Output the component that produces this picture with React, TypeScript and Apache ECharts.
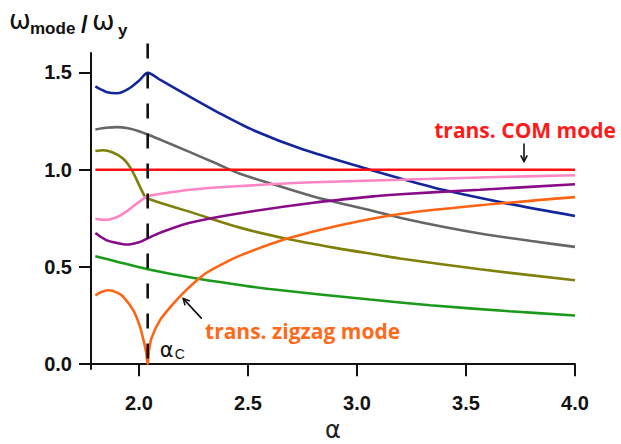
import React, { useEffect, useRef } from "react";
import * as echarts from "echarts";

// Critical anisotropy where the linear chain turns into a zigzag
const ALPHA_C = 2.04;

const X_TICKS = [2.0, 2.5, 3.0, 3.5, 4.0];
const Y_TICKS = [0.0, 0.5, 1.0, 1.5];

// Normal-mode frequencies ω_mode/ω_y versus trap anisotropy α
const blueMode: [number, number][] = [
  [1.8, 1.428], [1.85, 1.4], [1.9, 1.393], [1.95, 1.414], [2.0, 1.457], [2.04, 1.498],
  [2.1, 1.46], [2.2, 1.396], [2.37, 1.29], [2.53, 1.2], [2.75, 1.105], [3.06, 1.0],
  [3.2, 0.955], [3.4, 0.895], [3.68, 0.828], [4.0, 0.762],
];
const greyMode: [number, number][] = [
  [1.8, 1.207], [1.85, 1.216], [1.9, 1.219], [1.95, 1.213], [2.0, 1.198], [2.04, 1.181],
  [2.1, 1.153], [2.234, 1.09], [2.35, 1.034], [2.463, 0.979], [2.615, 0.925], [2.8, 0.862],
  [3.106, 0.779], [3.197, 0.753], [3.4, 0.705], [3.564, 0.672], [3.8, 0.633], [4.0, 0.603],
];
const comMode: [number, number][] = [
  [1.8, 1.0], [4.0, 1.0],
];
const pinkMode: [number, number][] = [
  [1.8, 0.748], [1.844, 0.742], [1.9, 0.757], [1.95, 0.791], [2.0, 0.834], [2.04, 0.863],
  [2.1, 0.876], [2.234, 0.897], [2.463, 0.916], [2.8, 0.935], [3.197, 0.948], [3.6, 0.961],
  [4.0, 0.971],
];
const oliveMode: [number, number][] = [
  [1.8, 1.096], [1.836, 1.1], [1.88, 1.088], [1.928, 1.056], [1.966, 1.0], [2.005, 0.911],
  [2.028, 0.86], [2.04, 0.852], [2.1, 0.829], [2.234, 0.783], [2.463, 0.702], [2.677, 0.645],
  [2.9, 0.598], [3.106, 0.56], [3.197, 0.543], [3.564, 0.488], [4.0, 0.431],
];
const purpleMode: [number, number][] = [
  [1.8, 0.674], [1.85, 0.638], [1.9, 0.623], [1.944, 0.615], [2.0, 0.627], [2.04, 0.647],
  [2.1, 0.677], [2.234, 0.727], [2.463, 0.776], [2.8, 0.83], [3.106, 0.866], [3.2, 0.874],
  [3.564, 0.897], [4.0, 0.925],
];
const greenMode: [number, number][] = [
  [1.8, 0.555], [1.9, 0.527], [2.04, 0.488], [2.265, 0.44], [2.463, 0.407], [2.6, 0.386],
  [3.06, 0.332], [3.335, 0.303], [3.7, 0.272], [4.0, 0.25],
];
const zigzagMode: [number, number][] = [
  [1.8, 0.354], [1.83, 0.372], [1.859, 0.38], [1.9, 0.368], [1.928, 0.346], [1.974, 0.277],
  [2.005, 0.192], [2.028, 0.089], [2.034, 0.055], [2.04, 0.0], [2.046, 0.07], [2.058, 0.135],
  [2.096, 0.225], [2.157, 0.31], [2.219, 0.383], [2.265, 0.43], [2.31, 0.47], [2.4, 0.525],
  [2.463, 0.558], [2.555, 0.598], [2.677, 0.645], [2.922, 0.714], [3.197, 0.772], [3.564, 0.817],
  [4.0, 0.859],
];

const MODES = [
  { name: "blue", color: "#13259a", data: blueMode },
  { name: "grey", color: "#666666", data: greyMode },
  { name: "olive", color: "#7f7f0a", data: oliveMode },
  { name: "pink", color: "#ff85c4", data: pinkMode },
  { name: "purple", color: "#880c88", data: purpleMode },
  { name: "green", color: "#1a9a1a", data: greenMode },
  { name: "zigzag", color: "#ff6414", data: zigzagMode },
  { name: "com", color: "#ff1010", data: comMode },
];

const LABEL_FONT = "'Liberation Sans', Arial, sans-serif";
const GREEK_FONT = "'DejaVu Sans', sans-serif";
const NOTE_FONT = "'Open Sans', Lato, sans-serif";

function arrow(tail: number[], tip: number[], color: string) {
  const dx = tip[0] - tail[0];
  const dy = tip[1] - tail[1];
  const len = Math.hypot(dx, dy) || 1;
  const ux = dx / len;
  const uy = dy / len;
  const h = 7;
  const a = (28 * Math.PI) / 180;
  const rot = (s: number) => [
    tip[0] - h * (ux * Math.cos(s * a) - uy * Math.sin(s * a)),
    tip[1] - h * (ux * Math.sin(s * a) + uy * Math.cos(s * a)),
  ];
  return [
    {
      type: "line",
      shape: { x1: tail[0], y1: tail[1], x2: tip[0], y2: tip[1] },
      style: { stroke: color, lineWidth: 1.6 },
      z: 20,
    },
    {
      type: "polyline",
      shape: { points: [rot(1), tip, rot(-1)] },
      style: { stroke: color, fill: "none", lineWidth: 1.6 },
      z: 20,
    },
  ];
}

export default function App() {
  const ref = useRef<HTMLDivElement>(null);

  useEffect(() => {
    const chart = echarts.init(ref.current!, null, { renderer: "svg" });

    const series: any[] = MODES.map((m) => ({
      name: m.name,
      type: "line",
      data: m.data,
      smooth: 0.3,
      showSymbol: false,
      symbol: "none",
      lineStyle: { color: m.color, width: 2.6 },
      z: 3,
    }));
    series.push({
      name: "alphaC",
      type: "line",
      data: [
        [ALPHA_C, 1.649],
        [ALPHA_C, -0.01],
      ],
      clip: false,
      symbol: "none",
      lineStyle: { color: "#111", width: 2.6, type: [15, 15] },
      z: 5,
    });

    chart.setOption({
      animation: false,
      backgroundColor: "#ffffff",
      grid: { left: 91, right: 46, top: 53, bottom: 75, outerBoundsMode: "none", containLabel: false },
      xAxis: {
        type: "value",
        min: 1.78,
        max: 4.0,
        name: "α",
        nameLocation: "middle",
        nameGap: 45,
        nameTextStyle: { fontSize: 24, color: "#222", fontFamily: GREEK_FONT },
        splitLine: { show: false },
        axisLine: { lineStyle: { color: "#111", width: 2 } },
        axisTick: {
          customValues: X_TICKS,
          length: 12,
          lineStyle: { color: "#111", width: 2 },
        },
        axisLabel: {
          customValues: X_TICKS,
          margin: 24,
          fontSize: 20,
          fontWeight: "bold",
          color: "#111",
          fontFamily: LABEL_FONT,
          formatter: (v: number) => v.toFixed(1),
        },
      },
      yAxis: {
        type: "value",
        min: -0.025,
        max: 1.6,
        splitLine: { show: false },
        axisLine: { show: true, lineStyle: { color: "#111", width: 2 } },
        axisTick: {
          show: true,
          customValues: Y_TICKS,
          length: 12,
          lineStyle: { color: "#111", width: 2 },
        },
        axisLabel: {
          customValues: Y_TICKS,
          margin: 19,
          fontSize: 20,
          fontWeight: "bold",
          color: "#111",
          fontFamily: LABEL_FONT,
          formatter: (v: number) => v.toFixed(1),
        },
      },
      series,
    });

    const px = (a: number, v: number) =>
      chart.convertToPixel({ gridIndex: 0 }, [a, v]) as number[];

    const comText = px(3.771, 1.205);
    const zigText = px(2.303, 0.172);
    const acPos = px(ALPHA_C, 0.072);

    const graphic: any[] = [
      // axis title ω_mode / ω_y
      {
        type: "text",
        x: 9,
        y: 20,
        style: { text: "ω", fontSize: 26, fill: "#111", fontFamily: GREEK_FONT, verticalAlign: "middle" },
      },
      {
        type: "text",
        x: 30,
        y: 28,
        style: { text: "mode", fontSize: 17, fontWeight: "bold", fill: "#111", fontFamily: LABEL_FONT, verticalAlign: "middle" },
      },
      {
        type: "text",
        x: 81,
        y: 24,
        style: { text: "/", fontSize: 24, fontWeight: "bold", fill: "#111", fontFamily: LABEL_FONT, verticalAlign: "middle" },
      },
      {
        type: "text",
        x: 92,
        y: 20,
        style: { text: "ω", fontSize: 27, fill: "#111", fontFamily: GREEK_FONT, verticalAlign: "middle" },
      },
      {
        type: "text",
        x: 118,
        y: 30,
        style: { text: "y", fontSize: 17, fontWeight: "bold", fill: "#111", fontFamily: LABEL_FONT, verticalAlign: "middle" },
      },
      // mode annotations
      {
        type: "text",
        x: comText[0],
        y: comText[1],
        z: 20,
        style: {
          text: "trans. COM mode",
          fontSize: 21,
          fontWeight: "bold",
          fill: "#ff1a1a",
          fontFamily: NOTE_FONT,
          align: "center",
          verticalAlign: "middle",
        },
      },
      {
        type: "text",
        x: zigText[0],
        y: zigText[1],
        z: 20,
        style: {
          text: "trans. zigzag mode",
          fontSize: 21,
          fontWeight: "bold",
          fill: "#ff6a1a",
          fontFamily: NOTE_FONT,
          align: "left",
          verticalAlign: "middle",
        },
      },
      {
        type: "text",
        x: acPos[0] + 12,
        y: acPos[1],
        z: 20,
        style: { text: "α", fontSize: 21, fill: "#111", fontFamily: GREEK_FONT, verticalAlign: "middle" },
      },
      {
        type: "text",
        x: acPos[0] + 27,
        y: acPos[1] + 4,
        z: 20,
        style: { text: "C", fontSize: 14, fill: "#111", fontFamily: LABEL_FONT, verticalAlign: "middle" },
      },
      ...arrow(px(3.766, 1.134), px(3.766, 1.042), "#111"),
      ...arrow(px(2.288, 0.234), px(2.203, 0.337), "#111"),
    ];

    chart.setOption({ graphic });

    return () => chart.dispose();
  }, []);

  return (
    <div
      ref={ref}
      style={{ position: "absolute", left: 0, top: 0, width: 621, height: 444 }}
    />
  );
}
